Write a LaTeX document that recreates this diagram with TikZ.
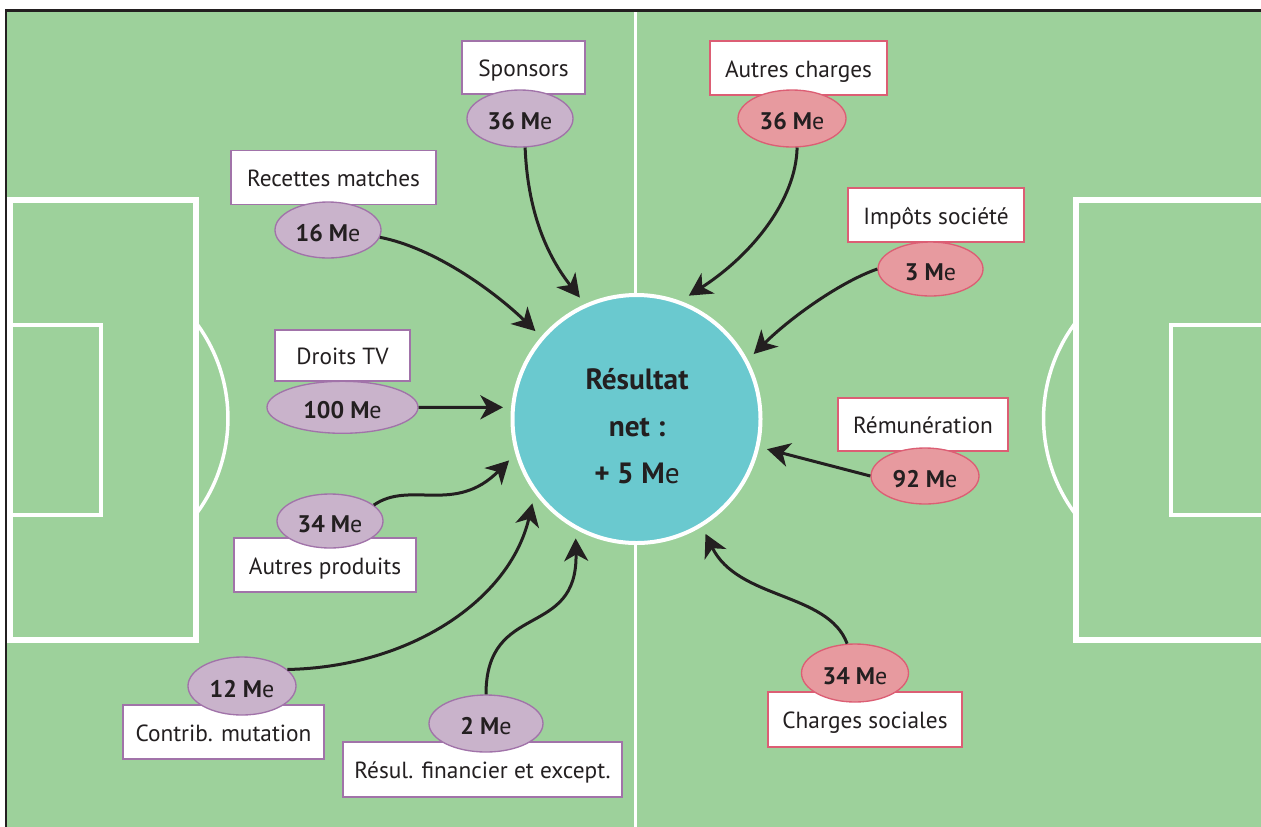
\documentclass[tikz,border=0pt]{standalone}
\usepackage{fontspec}
\setmainfont{PT Sans}
\usetikzlibrary{arrows.meta,shapes.geometric}
\definecolor{field}{HTML}{9DD19B}
\definecolor{ink}{HTML}{231F20}
\definecolor{core}{HTML}{6AC9CF}
\definecolor{pfill}{HTML}{C9B3CB}
\definecolor{pline}{HTML}{A173A9}
\definecolor{rfill}{HTML}{E79A9F}
\definecolor{rline}{HTML}{DC5E74}
\def\upx{0.75pt}
\tikzset{
  pitchline/.style={draw=white, line width=4.5pt},
  thinline/.style={draw=white, line width=3pt},
  lbl/.style={draw, fill=white, line width=1pt, inner sep=0pt,
    font=\fontsize{17.5}{20}\selectfont, text=ink, text height=14pt, text depth=0pt},
  plbl/.style={lbl, draw=pline},
  rlbl/.style={lbl, draw=rline},
  val/.style={ellipse, draw, line width=1pt, inner sep=0pt,
    font=\fontsize{18}{20}\selectfont\bfseries, text=ink, text height=16.5pt, text depth=0pt},
  pv/.style={val, fill=pfill, draw=pline},
  rv/.style={val, fill=rfill, draw=rline},
  flow/.style={draw=ink, line width=2.25pt, -{Stealth[length=17pt, width=18pt, inset=5pt]}},
}
\begin{document}
\begin{tikzpicture}[x=0.75pt,y=-0.75pt]
\useasboundingbox (0,0) rectangle (1261,826);
\clip (0,0) rectangle (1261,826);
\fill[white] (0,0) rectangle (1261,826);
\fill[field] (6,10.5) rectangle (1275,840);
% pitch markings
\draw[white, line width=2.6pt] (635.5,10) -- (635.5,830);
\draw[pitchline] (10,200) rectangle (195.5,640);
\draw[thinline] (10,325) rectangle (101,515);
\draw[white, line width=2.6pt] (195.5,322) arc[start angle=37.2, end angle=-37.2, radius=119.625pt];
\draw[pitchline] (1280,200) -- (1076,200) -- (1076,640) -- (1280,640);
\draw[thinline] (1280,325) -- (1171,325) -- (1171,515) -- (1280,515);
\draw[white, line width=2.6pt] (1076,322) arc[start angle=142.8, end angle=217.2, radius=119.625pt];
% frame (top and left)
\draw[ink, line width=1.9pt] (6,830) -- (6,10.5) -- (1270,10.5);
% centre
\node[circle, fill=core, draw=white, line width=3pt, minimum size=248*\upx, inner sep=0pt, outer sep=7.5pt] (res) at (636.5,419) {};
\node[font=\fontsize{22}{35}\selectfont\bfseries, text=ink, align=center] (restxt) at (637,426) {Résultat\\net :\\+ 5 M{\mdseries e}};
% labels (revenues)
\node[plbl, minimum width=123*\upx, minimum height=53*\upx] (l1) at (523.5,67.5) {Sponsors};
\node[plbl, minimum width=205*\upx, minimum height=54*\upx] (l2) at (333.5,177.5) {Recettes matches};
\node[plbl, minimum width=135*\upx, minimum height=51*\upx] (l3) at (342.5,355.5) {Droits TV};
\node[plbl, minimum width=182*\upx, minimum height=54*\upx] (l4) at (325,565) {Autres produits};
\node[plbl, minimum width=201*\upx, minimum height=54*\upx] (l5) at (223.5,732) {Contrib. mutation};
\node[plbl, minimum width=279*\upx, minimum height=55*\upx] (l6) at (482.5,769.5) {Résul. financier et except.};
% labels (charges)
\node[rlbl, minimum width=177*\upx, minimum height=54*\upx] (k1) at (798.5,68) {Autres charges};
\node[rlbl, minimum width=176*\upx, minimum height=54*\upx] (k2) at (936,215) {Impôts société};
\node[rlbl, minimum width=170*\upx, minimum height=53*\upx] (k3) at (923,424.5) {Rémunération};
\node[rlbl, minimum width=194*\upx, minimum height=55*\upx] (k4) at (865,719.5) {Charges sociales};
% values
\node[pv, minimum width=106*\upx, minimum height=57*\upx] (v1) at (520,118.5) {36 M{\mdseries e}};
\node[pv, minimum width=106*\upx, minimum height=56*\upx] (v2) at (328,230) {16 M{\mdseries e}};
\node[pv, minimum width=151*\upx, minimum height=52*\upx] (v3) at (342.5,407.3) {100 M{\mdseries e}};
\node[pv, minimum width=106*\upx, minimum height=54*\upx] (v4) at (330,521) {34 M{\mdseries e}};
\node[pv, minimum width=108*\upx, minimum height=58*\upx] (v5) at (242,686) {12 M{\mdseries e}};
\node[pv, minimum width=114*\upx, minimum height=57*\upx] (v6) at (486,723.5) {2 M{\mdseries e}};
\node[rv, minimum width=108*\upx, minimum height=57*\upx] (r1) at (792,118.5) {36 M{\mdseries e}};
\node[rv, minimum width=105*\upx, minimum height=54*\upx] (r2) at (930.5,269) {3 M{\mdseries e}};
\node[rv, minimum width=108*\upx, minimum height=56*\upx] (r3) at (925,476) {92 M{\mdseries e}};
\node[rv, minimum width=107*\upx, minimum height=58*\upx] (r4) at (855,673) {34 M{\mdseries e}};
% flows
\draw[flow] (v1.-80) .. controls (528,220) and (552,262) .. (res.115);
\draw[flow] (v2.-8) .. controls (435,248) and (495,292) .. (res.139);
\draw[flow] (v3.east) -- (res.175);
\draw[flow] (v4.20) .. controls (410,480) and (455,515) .. (res.198.8);
\draw[flow] (v5.20) .. controls (410,667) and (510,600) .. (res.219.7);
\draw[flow] (v6.north) .. controls (486,600) and (578,640) .. (res.243.4);
\draw[flow] (r1.-80) .. controls (796,200) and (752,255) .. (res.67);
\draw[flow] (r2.west) .. controls (840,282) and (790,318) .. (res.29);
\draw[flow] (r3.west) -- (res.-13.1);
\draw[flow] (r4.105) .. controls (828,592) and (738,600) .. (res.-59.4);
\end{tikzpicture}
\end{document}
